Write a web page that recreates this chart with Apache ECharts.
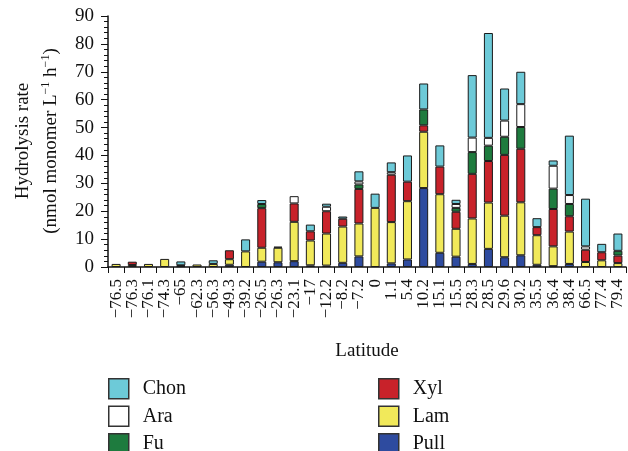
<!DOCTYPE html>
<html>
<head>
<meta charset="utf-8">
<script src="https://cdn.jsdelivr.net/npm/echarts@6/dist/echarts.min.js"></script>
<style>
html,body{margin:0;padding:0;background:#fff;}
#chart{width:628px;height:451px;}
</style>
</head>
<body>
<div id="chart"></div>
<script>
var categories = ['\u221276.5','\u221276.3','\u221276.1','\u221274.3','\u221265','\u221262.3','\u221256.3','\u221249.3','\u221239.2','\u221226.5','\u221226.3','\u221223.1','\u221217','\u221212.2','\u22128.2','\u22127.2','0','1.1','5.4','10.2','15.1','15.5','28.3','28.5','29.6','30.2','35.5','36.4','38.4','66.5','77.4','79.4'];

var pull = [0,0,0,0,0.3,0,0,0.8,0,1.9,1.7,2.1,0.6,0.5,1.5,3.8,0,1.3,2.7,28.3,5.1,3.7,1.1,6.5,3.5,4.2,0.8,0.3,1.1,0,0,0];
var lam  = [1.1,0.7,1.1,2.9,0.3,0.9,1.1,2.0,5.6,5.0,5.2,14.1,8.9,11.5,13.0,11.8,21.2,14.8,20.9,20.2,21.0,10.0,16.3,16.6,14.9,19.0,10.6,7.1,11.6,1.8,2.4,1.4];
var xyl  = [0,1.2,0,0,0,0,0,3.2,0,14.2,0,6.6,3.3,8.0,2.8,12.4,0,17.0,7.0,2.3,9.9,6.1,16.0,14.9,21.8,19.2,2.9,13.4,5.5,4.4,2.9,2.7];
var fu   = [0,0,0,0,0,0,0,0,0,1.5,0.4,0,0,0,0,1.6,0,0,0,5.7,0,1.4,7.8,5.5,6.5,7.8,0,7.3,4.4,0,0,1.7];
var ara  = [0,0,0,0,0,0,0,0,0,0,0,2.6,0,1.6,0,1.1,0,0.9,0,0,0,1.4,5.2,2.8,5.8,8.2,0,8.2,3.2,1.2,0,0];
var chon = [0,0,0,0,1.4,0,1.3,0,4.3,1.4,0,0,2.4,1.1,0.8,3.6,5.1,3.5,9.4,9.3,7.6,1.5,22.4,37.6,11.5,11.6,3.2,1.9,21.3,17.1,3.0,6.2];

var yTicks = {min:0, max:90, interval:10};

var FONT = 'Liberation Serif';
var seriesDefs = [
  {name:'Pull', data:pull, color:'#2e4b9f'},
  {name:'Lam',  data:lam,  color:'#f1e95a'},
  {name:'Xyl',  data:xyl,  color:'#c8222a'},
  {name:'Fu',   data:fu,   color:'#1e7b3e'},
  {name:'Ara',  data:ara,  color:'#ffffff'},
  {name:'Chon', data:chon, color:'#6dcad8'}
];

var chart = echarts.init(document.getElementById('chart'), null, {renderer:'canvas'});

var legendCommon = {
  orient:'horizontal', top:378, width:100, itemWidth:20, itemHeight:20, itemGap:6, padding:0,
  icon:'rect',
  itemStyle:{borderColor:'#333', borderWidth:1.5},
  textStyle:{fontFamily:FONT, fontSize:20, color:'#111', padding:[0,0,0,9]}
};

var option = {
  animation:false,
  backgroundColor:'#fff',
  grid:{left:108, right:2, top:16, bottom:184, containLabel:false},
  legend:[
    Object.assign({left:108, data:['Chon','Ara','Fu']}, legendCommon),
    Object.assign({left:378, data:['Xyl','Lam','Pull']}, legendCommon)
  ],
  xAxis:{
    type:'category', data:categories, boundaryGap:true,
    axisLine:{lineStyle:{color:'#111', width:1.5}},
    axisTick:{show:true, length:6, interval:0, lineStyle:{color:'#111', width:1}},
    axisLabel:{rotate:90, interval:0, fontFamily:FONT, fontSize:17, color:'#111', margin:12},
    splitLine:{show:false}
  },
  yAxis:{
    type:'value', min:yTicks.min, max:yTicks.max, interval:yTicks.interval,
    axisLine:{show:true, lineStyle:{color:'#111', width:1.5}},
    axisTick:{show:true, length:7, lineStyle:{color:'#111', width:1}},
    minorTick:{show:true, splitNumber:5, length:4, lineStyle:{color:'#111', width:1}},
    axisLabel:{fontFamily:FONT, fontSize:19, color:'#111', margin:14},
    splitLine:{show:false}
  },
  graphic:[
    {type:'text', x:23, y:141, rotation:Math.PI/2,
     style:{text:'Hydrolysis rate', font:'19px "Liberation Serif"', fill:'#111', align:'center', verticalAlign:'middle'}},
    {type:'text', x:51, y:141, rotation:Math.PI/2,
     style:{text:'(nmol monomer L{s|\u22121} h{s|\u22121})', font:'19px "Liberation Serif"', fill:'#111', align:'center', verticalAlign:'middle',
       rich:{s:{fontFamily:FONT, fontSize:12, fill:'#111', verticalAlign:'top', lineHeight:22}}}},
    {type:'text', x:367, y:351,
     style:{text:'Latitude', font:'19px "Liberation Serif"', fill:'#111', align:'center', verticalAlign:'middle'}}
  ],
  series: seriesDefs.map(function(s){
    return {
      name:s.name, type:'bar', stack:'total', barWidth:9,
      data:s.data.map(function(v){return v>0?v:null;}),
      itemStyle:{color:s.color, borderColor:'#1a1a1a', borderWidth:1},
      emphasis:{disabled:true}
    };
  })
};
chart.setOption(option);
</script>
</body>
</html>
